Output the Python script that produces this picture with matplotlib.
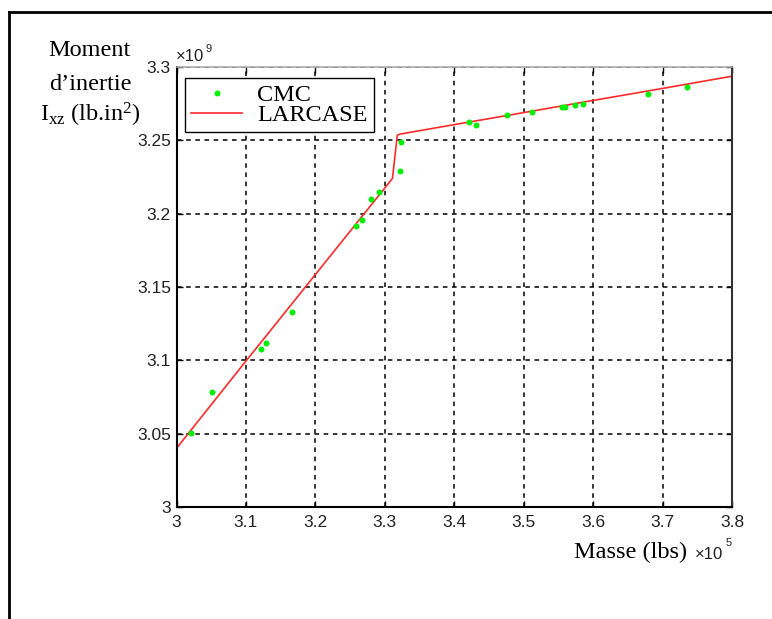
import matplotlib
matplotlib.use("Agg")
import matplotlib.pyplot as plt
from matplotlib.lines import Line2D

# Data (mass in 1e5 lbs, moment in 1e9 lb.in^2)
cmc_mass = [3.021, 3.051, 3.1215, 3.129, 3.166, 3.258, 3.2665, 3.2797, 3.2918,
            3.322, 3.324, 3.421, 3.4318, 3.4755, 3.5125, 3.5558, 3.5596, 3.574,
            3.5855, 3.6785, 3.735]
cmc_ixz = [3.0505, 3.0786, 3.1075, 3.112, 3.133, 3.1916, 3.196, 3.210, 3.2146,
           3.2293, 3.249, 3.2627, 3.2607, 3.267, 3.2695, 3.273, 3.273, 3.2739,
           3.2748, 3.2816, 3.2861]
lar_mass = [3.0, 3.1, 3.2, 3.25, 3.3, 3.311, 3.318, 3.3225, 3.4, 3.5, 3.6, 3.7, 3.8]
lar_ixz = [3.040, 3.0995, 3.1585, 3.188, 3.2175, 3.224, 3.2536, 3.2543, 3.2607,
           3.2689, 3.2772, 3.2854, 3.2937]

xticks = [3.0, 3.1, 3.2, 3.3, 3.4, 3.5, 3.6, 3.7, 3.8]
xticklabels = ["3", "3.1", "3.2", "3.3", "3.4", "3.5", "3.6", "3.7", "3.8"]
yticks = [3.0, 3.05, 3.1, 3.15, 3.2, 3.25, 3.3]
yticklabels = ["3", "3.05", "3.1", "3.15", "3.2", "3.25", "3.3"]

W, H = 772, 619
fig = plt.figure(figsize=(W / 100, H / 100), dpi=100)
plt.rcParams['mathtext.fontset'] = 'custom'
plt.rcParams['mathtext.rm'] = 'Liberation Serif'
plt.rcParams['mathtext.it'] = 'Liberation Serif:italic'

L, R, T, B = 176.5, 732, 67, 507
ax = fig.add_axes([L / W, 1 - B / H, (R - L) / W, (B - T) / H])

ax.plot(cmc_mass, cmc_ixz, linestyle='none', marker='o', markersize=4.3,
        color='#00ee00', markeredgewidth=0, label='CMC', zorder=3)
ax.plot(lar_mass, lar_ixz, color='#ff2a2a', linewidth=1.2, label='LARCASE', zorder=2)

ax.set_xlim(3.0, 3.8)
ax.set_ylim(3.0, 3.3)
ax.set_xticks(xticks)
ax.set_xticklabels(xticklabels)
ax.set_yticks(yticks)
ax.set_yticklabels(yticklabels)

ax.grid(True, color='black', linestyle=(0, (3, 3)), linewidth=1.1)
ax.tick_params(direction='in', length=4, width=1, top=True, right=True,
               labelsize=12.5, labelcolor='#222222')
ax.tick_params(axis='x', pad=6)
ax.tick_params(axis='y', pad=4)
for lab in ax.get_xticklabels() + ax.get_yticklabels():
    lab.set_fontfamily('Liberation Sans')

ax.spines['left'].set_linewidth(1.5)
ax.spines['bottom'].set_linewidth(1.5)
ax.spines['top'].set_color('#aaaaaa')
ax.spines['top'].set_linewidth(1.2)
ax.spines['right'].set_color('#333333')
ax.spines['right'].set_linewidth(1.5)

# Legend
lx0, ly0 = 185, 78
ax_w, ax_h = (R - L), (B - T)
leg = ax.legend(loc='upper left',
                bbox_to_anchor=((lx0 - L) / ax_w, 1 - (ly0 - T) / ax_h),
                borderaxespad=0, fancybox=False, framealpha=1,
                edgecolor='black', handlelength=2.1, handletextpad=0.62,
                labelspacing=-0.08, borderpad=0.25,
                prop={'family': 'Liberation Serif', 'size': 17.5})
leg.get_frame().set_linewidth(1.0)

# Offset texts
fig.text(176 / W, 1 - 61 / H, "\u00d710", fontsize=12,
         family='Liberation Sans', va='baseline', ha='left', color='#222222')
fig.text(205 / W, 1 - 52 / H, "9", fontsize=8,
         family='Liberation Sans', va='baseline', ha='left', color='#222222')
fig.text(695 / W, 1 - 559 / H, "\u00d710", fontsize=12,
         family='Liberation Sans', va='baseline', ha='left', color='#222222')
fig.text(726 / W, 1 - 546 / H, "5", fontsize=8,
         family='Liberation Sans', va='baseline', ha='left', color='#222222')

# Axis labels
fig.text(687 / W, 1 - 558 / H, "Masse (lbs)", fontsize=17.5,
         family='Liberation Serif', ha='right', va='baseline')
fig.text(89 / W, 1 - 56 / H, "Moment", fontsize=17.5,
         family='Liberation Serif', ha='center', va='baseline')
fig.text(90 / W, 1 - 90 / H, "d\u2019inertie", fontsize=17.5,
         family='Liberation Serif', ha='center', va='baseline')
fig.text(90 / W, 1 - 122 / H, r"I$_{\rm xz}$ (lb.in$^{2}$)", fontsize=17.5,
         family='Liberation Serif', ha='center', va='baseline')

# Outer frame (partially visible)
fig.add_artist(Line2D([9 / W, 1.0], [1 - 11.5 / H, 1 - 11.5 / H],
                      transform=fig.transFigure, color='black', linewidth=2))
fig.add_artist(Line2D([9 / W, 9 / W], [1 - 11.5 / H, 0.0],
                      transform=fig.transFigure, color='black', linewidth=2))

fig.savefig("out.png", dpi=100)
